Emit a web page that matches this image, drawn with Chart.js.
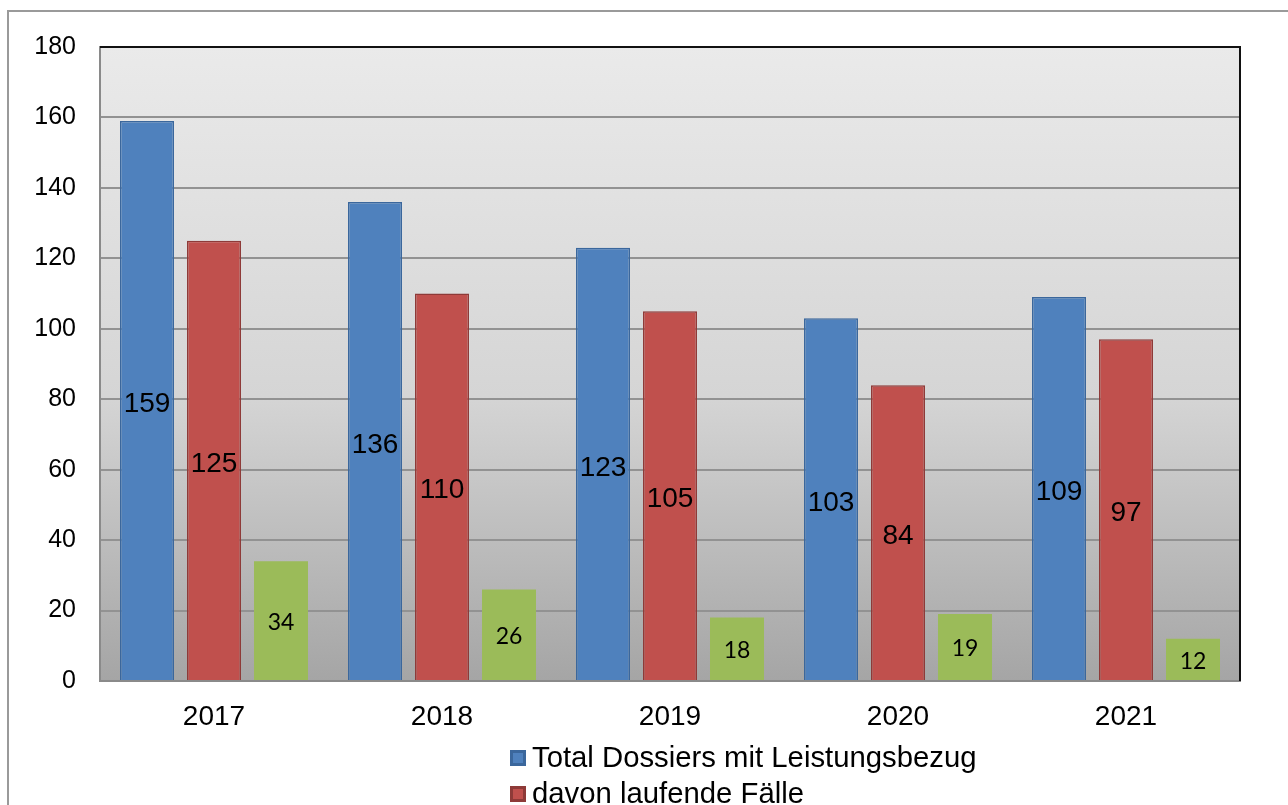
<!DOCTYPE html>
<html>
<head>
<meta charset="utf-8">
<script src="https://cdn.jsdelivr.net/npm/chart.js@4.4.1/dist/chart.umd.min.js"></script>
<style>
  html, body { margin: 0; padding: 0; background: #ffffff; overflow: hidden; }
  #wrap { width: 1288px; height: 805px; position: relative; }
</style>
</head>
<body>
<div id="wrap"><canvas id="c" width="1288" height="805"></canvas></div>
<script>
const categories = ['2017', '2018', '2019', '2020', '2021'];
const totalDossiers = [159, 136, 123, 103, 109];
const laufendeFaelle = [125, 110, 105, 84, 97];
const dritteSerie = [34, 26, 18, 19, 12];
const seriesLabels = ['Total Dossiers mit Leistungsbezug', 'davon laufende Fälle', ''];
const yTicks = [0, 20, 40, 60, 80, 100, 120, 140, 160, 180];

const frameAndBg = {
  id: 'frameAndBg',
  beforeDraw(chart) {
    const ctx = chart.ctx;
    const a = chart.chartArea;
    ctx.save();
    ctx.strokeStyle = '#9a9a9a';
    ctx.lineWidth = 2;
    ctx.beginPath();
    ctx.moveTo(8, 810);
    ctx.lineTo(8, 11);
    ctx.lineTo(1300, 11);
    ctx.stroke();
    const g = ctx.createLinearGradient(0, a.top, 0, a.bottom);
    g.addColorStop(0, '#eaeaea');
    g.addColorStop(0.55, '#d5d5d5');
    g.addColorStop(1, '#a5a5a5');
    ctx.fillStyle = g;
    ctx.fillRect(a.left, a.top, a.right - a.left, a.bottom - a.top);
    ctx.restore();
  },
  afterDraw(chart) {
    const ctx = chart.ctx;
    const a = chart.chartArea;
    ctx.save();
    ctx.strokeStyle = '#111111';
    ctx.lineWidth = 2;
    ctx.beginPath();
    ctx.moveTo(a.left, a.top);
    ctx.lineTo(a.right, a.top);
    ctx.lineTo(a.right, a.bottom);
    ctx.stroke();
    ctx.restore();
  }
};

const valueLabels = {
  id: 'valueLabels',
  afterDatasetsDraw(chart) {
    const ctx = chart.ctx;
    ctx.save();
    ctx.textAlign = 'center';
    ctx.textBaseline = 'middle';
    ctx.fillStyle = '#000000';
    chart.data.datasets.forEach((ds, di) => {
      const meta = chart.getDatasetMeta(di);
      ctx.font = di === 2 ? '23px Lato, "Open Sans", sans-serif' : '28px "Liberation Sans", Arial, sans-serif';
      meta.data.forEach((bar, i) => {
        const cy = (bar.y + bar.base) / 2 + (di === 2 ? 2 : 4);
        ctx.fillText(String(ds.data[i]), bar.x, cy);
      });
    });
    ctx.restore();
  }
};

const customLegend = {
  id: 'customLegend',
  afterDraw(chart) {
    const ctx = chart.ctx;
    const a = chart.chartArea;
    ctx.save();
    ctx.font = '29.3px "Liberation Sans", Arial, sans-serif';
    ctx.textBaseline = 'middle';
    ctx.textAlign = 'left';
    const x0 = 510;
    let y = a.bottom + 77;
    chart.data.datasets.forEach((ds) => {
      if (!ds.label) return;
      ctx.fillStyle = ds.backgroundColor;
      ctx.strokeStyle = ds.borderColor;
      ctx.lineWidth = 3;
      ctx.fillRect(x0, y - 8, 16, 16);
      ctx.strokeRect(x0 + 1.5, y - 6.5, 13, 13);
      ctx.fillStyle = '#000000';
      ctx.fillText(ds.label, x0 + 22, y + 1);
      y += 36;
    });
    ctx.restore();
  }
};

new Chart(document.getElementById('c'), {
  type: 'bar',
  data: {
    labels: categories,
    datasets: [
      { label: seriesLabels[0], data: totalDossiers, backgroundColor: '#4f81bd', borderColor: '#3b679c', borderWidth: 1.5, borderSkipped: 'bottom' },
      { label: seriesLabels[1], data: laufendeFaelle, backgroundColor: '#c0504d', borderColor: '#8e3a38', borderWidth: 1.5, borderSkipped: 'bottom' },
      { label: seriesLabels[2], data: dritteSerie, backgroundColor: '#9bbb59', borderColor: '#9bbb59', borderWidth: 0 }
    ]
  },
  options: {
    responsive: false,
    animation: false,
    events: [],
    categoryPercentage: 0.8816,
    barPercentage: 0.806,
    layout: { padding: { left: 10, top: 47, right: 48, bottom: 0 } },
    plugins: { legend: { display: false }, tooltip: { enabled: false } },
    scales: {
      x: {
        grid: { display: false, drawTicks: false },
        border: { display: true, color: '#8a8a8a', width: 2 },
        ticks: { color: '#000000', padding: 19, font: { family: '"Liberation Sans", Arial, sans-serif', size: 28 } },
        afterFit(s) { s.height = 124; }
      },
      y: {
        min: 0, max: 180,
        afterBuildTicks(s) { s.ticks = yTicks.map(v => ({ value: v })); },
        grid: { color: '#929292', lineWidth: 2, drawTicks: false },
        border: { display: true, color: '#8a8a8a', width: 2 },
        ticks: { color: '#000000', padding: 24, font: { family: '"Liberation Sans", Arial, sans-serif', size: 25 } },
        afterFit(s) { s.width = 90; }
      }
    }
  },
  plugins: [frameAndBg, valueLabels, customLegend]
});
</script>
</body>
</html>
